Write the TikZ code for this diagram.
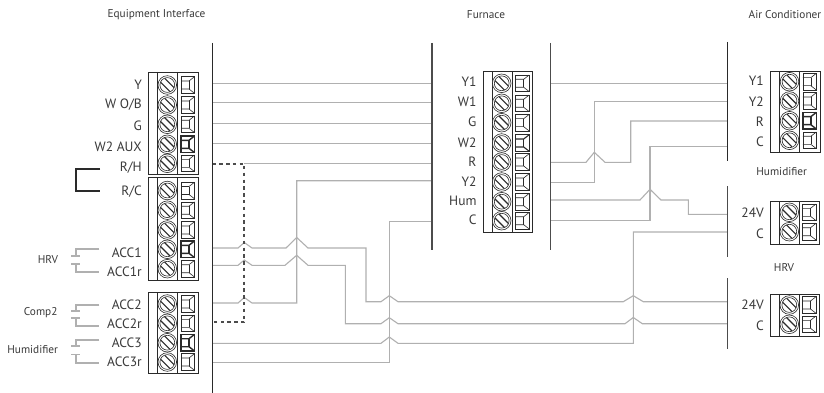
\documentclass[tikz,border=0pt]{standalone}
\usepackage{fontspec}
\setmainfont{PT Sans}
\definecolor{wire}{HTML}{B0B0B0}
\definecolor{ink}{HTML}{2A2A2A}
\definecolor{txt}{HTML}{3A3A3A}
\tikzset{
  wirepath/.style={draw=wire,line width=1.1pt,line join=miter},
  barline/.style={draw=ink,line width=1.2pt},
  boxline/.style={draw=ink,line width=.9pt},
  title/.style={text=txt,font=\fontsize{11.3}{13}\selectfont,inner sep=0pt},
  sidetitle/.style={text=txt,font=\fontsize{11.3}{13}\selectfont,inner sep=0pt},
  termlabel/.style={text=txt,font=\fontsize{13.5}{15}\selectfont,inner sep=0pt,anchor=east},
  accbracket/.style={draw=wire,line width=1.6pt},
  jumper/.style={draw=ink,line width=1.7pt},
  strap/.style={draw=black!70,line width=1.8pt,dash pattern=on 3.4pt off 3.4pt}
}
% #1 x of screw, #2 y, #3 x of connector left edge, #4 line width of connector
\newcommand{\termunit}[4]{%
  \begin{scope}[shift={(#1,#2)}]
    \draw[ink,line width=.6pt,fill=white] (0,0) circle (9.3);
    \draw[ink,line width=.6pt] (0,0) circle (7.4);
    \begin{scope}
      \clip (0,0) circle (7.2);
      \foreach \d in {-6,-2,2,6}{\draw[ink,line width=1.1pt] (-9+\d,-9-\d) -- (9+\d,9-\d);}
    \end{scope}
  \end{scope}
  \begin{scope}[shift={(#3,#2)}]
    \draw[ink,line width=#4] (0,-8.3) rectangle (13.5,8.3);
    \draw[ink,line width=#4] (0,-4) -- (8,-4) -- (13.5,-8.3);
    \draw[ink,line width=#4] (0,4) -- (8,4) -- (13.5,8.3);
    \draw[ink,line width=#4] (8,-4) -- (8,4);
  \end{scope}}
% #1 left, #2 right, #3 top, #4 bottom
\newcommand{\termblock}[4]{%
  \draw[boxline] (#1,#3) rectangle (#2,#4);
  \draw[boxline] (#1+9,#3) -- (#1+9,#4) (#1+29,#3) -- (#1+29,#4);}
\begin{document}
\begin{tikzpicture}[x=1pt,y=-1pt]
\useasboundingbox (0,0) rectangle (824,393);
\fill[white] (0,0) rectangle (824,393);

% anchors for bars
\coordinate (e) at (212.5,0);
\coordinate (fl) at (432,0);
\coordinate (fr) at (550.7,0);
\coordinate (a) at (727.5,0);
\coordinate (strapA) at (212.5,163.7);
\coordinate (strapB) at (244.3,163.7);
\coordinate (strapC) at (244.3,322.3);
\coordinate (strapD) at (212.5,322.3);

% wires
\draw[wirepath] (e|-0,83.3) -- (fl|-0,83.3);
\draw[wirepath] (e|-0,102.7) -- (fl|-0,102.7);
\draw[wirepath,line width=1.3pt] (e|-0,123.7) -- (fl|-0,123.7);
\draw[wirepath] (e|-0,143.7) -- (fl|-0,143.7);
\draw[wirepath] (strapB) -- (fl|-strapB);
% Y2 / ACC2
\draw[wirepath] (fl|-0,180.7) -- (296.7,180.7) -- (296.7,303) -- (252,303) -- (244.3,297.5) -- (238,303) -- (e|-0,303);
% ACC1
\draw[wirepath] (e|-0,248) -- (238,248) -- (244.3,242.5) -- (252,248) -- (286,248) -- (296.7,237.5) -- (308,248) -- (366,248) -- (366,301.7) -- (381,301.7) -- (389.3,295.7) -- (398,301.7) -- (623.3,301.7) -- (633.3,295.7) -- (643.3,301.7) -- (a|-0,301.7);
% ACC1r
\draw[wirepath] (e|-0,265.3) -- (238,265.3) -- (244.3,260) -- (252,265.3) -- (285,265.3) -- (296.7,255.3) -- (308,265.3) -- (345.3,265.3) -- (345.3,323.7) -- (381,323.7) -- (389.3,317.7) -- (398,323.7) -- (625,323.7) -- (633.3,317.5) -- (642.3,323.7) -- (a|-0,323.7);
% ACC3 -> Humidifier C
\draw[wirepath] (e|-0,343.3) -- (381,343.3) -- (389.3,337) -- (398,343.3) -- (633.3,343.3) -- (633.3,232) -- (a|-0,232);
% ACC3r -> Furnace C
\draw[wirepath] (e|-0,362.7) -- (389.3,362.7) -- (389.3,221.7) -- (fl|-0,221.7);
% Furnace to AC
\draw[wirepath] (fr|-0,83.3) -- (a|-0,83.3);
\draw[wirepath] (fr|-0,162.3) -- (586,162.3) -- (594.3,152.3) -- (605,162.3) -- (630.7,162.3) -- (630.7,121) -- (a|-0,121);
\draw[wirepath] (fr|-0,182.3) -- (594.3,182.3) -- (594.3,101.7) -- (a|-0,101.7);
\draw[wirepath] (fr|-0,200) -- (640,200) -- (650,189.3) -- (661,200) -- (688.3,200) -- (688.3,214.3) -- (a|-0,214.3);
\draw[wirepath] (fr|-0,220.7) -- (650,220.7) -- (650,146.7) -- (a|-0,146.7);

% strap
\draw[strap] (strapA) -- (strapB) -- (strapC) -- (strapD);

% bars
\draw[barline] (e|-0,43) -- (e|-0,393);
\draw[barline,draw=black!70] (fl|-0,43) -- (fl|-0,249.5);
\draw[barline,draw=black!70] (fr|-0,43) -- (fr|-0,249.5);
\draw[barline] (a|-0,42) -- (a|-0,161);
\draw[barline,draw=black!70] (a|-0,186) -- (a|-0,257);
\draw[barline,draw=black!70] (a|-0,278) -- (a|-0,349);

% Equipment Interface blocks
\termblock{148.3}{198}{72}{174}
\termblock{148.3}{198}{177.3}{280}
\termblock{148.3}{198}{292.7}{373.3}
\foreach \yy/\lw in {85/.6pt,105/.6pt,124.3/.6pt,144.3/1.4pt,163.3/.6pt,190.5/.6pt,210.2/.6pt,230/.6pt,249.3/1.4pt,268.7/.6pt,304/.6pt,323.3/.6pt,342.7/1.4pt,362/.6pt}{\termunit{167.3}{\yy}{181}{\lw}}
% Furnace
\termblock{483.3}{532.7}{71.7}{232.7}
\foreach \yy/\lw in {83.3/.6pt,103.3/.6pt,122.7/.6pt,143/1.1pt,162/.6pt,182/.6pt,201.7/.6pt,220.7/.6pt}{\termunit{501.7}{\yy}{515.7}{\lw}}
% AC
\termblock{770.7}{820}{71.7}{152.3}
\foreach \yy/\lw in {81.7/.6pt,101/.6pt,120.7/1.4pt,140.3/.6pt}{\termunit{789.5}{\yy}{802.8}{\lw}}
% Humidifier
\termblock{770.3}{819.5}{201.7}{244}
\foreach \yy in {212.3,231.7}{\termunit{789.3}{\yy}{802.5}{.6pt}}
% HRV
\termblock{770.3}{819.5}{294.3}{336.7}
\foreach \yy in {305,324.3}{\termunit{789.3}{\yy}{802.5}{.6pt}}

% titles
\node[title] (tEI) at (156.5,15) {Equipment Interface};
\node[title] (tF) at (486,15) {Furnace};
\node[title] (tAC) at (785,15) {Air Conditioner};
\node[sidetitle] (tH) at (781.7,172) {Humidifier};
\node[sidetitle] (tR) at (784,268) {HRV};
\node[sidetitle] (lH) at (48,260) {HRV};
\node[sidetitle] (lC) at (40.7,313) {Comp2};
\node[sidetitle] (lU) at (32.7,349.3) {Humidifier};

% equipment labels
\foreach \n/\yy/\t in {ly/85/Y,lw/105/{W O/B},lg/126/G,lx/146.7/W2 AUX,lrh/167.3/{R/H},lrc/191.3/{R/C},la/252.3/ACC1,lb/272/ACC1r,lc/304.7/ACC2,ld/323.3/ACC2r,le/342.7/ACC3,lf/362/ACC3r}{\node[termlabel] (\n) at (142,\yy) {\t};}
% furnace labels
\foreach \n/\yy/\t in {fa/81.7/Y1,fb/102/W1,fc/122/G,fd/143/W2,fe/161.7/R,ff/181.7/Y2,fg/200.7/Hum,fh/220/C}{\node[termlabel] (\n) at (476.7,\yy) {\t};}
% AC labels
\foreach \n/\yy/\t in {aa/81/Y1,ab/101.7/Y2,ac/122/R,ad/142/C,ha/212.3/24V,hb/234/C,ra/305/24V,rb/326/C}{\node[termlabel] (\n) at (764,\yy) {\t};}

% jumper
\draw[jumper] (100,169) -- (75.7,169) -- (75.7,190.7) -- (100,190.7);
% ACC brackets
\foreach \ya/\yb/\yc/\yd in {248.7/256/264/272,304.7/311/317.7/325.7,339.7/346/354.3/363}{
  \draw[accbracket] (99.3,\ya) -- (76,\ya) -- (76,\yb) (71.3,\yb) -- (80,\yb);
  \draw[accbracket] (71.3,\yc) -- (80,\yc) (76,\yc) -- (76,\yd) -- (99.3,\yd);
}
\end{tikzpicture}
\end{document}
